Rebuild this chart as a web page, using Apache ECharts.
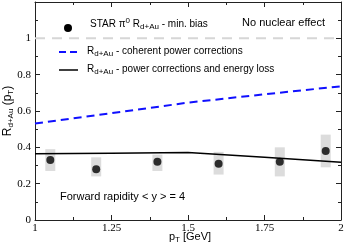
<!DOCTYPE html>
<html>
<head>
<meta charset="utf-8">
<script src="https://cdn.jsdelivr.net/npm/echarts@6/dist/echarts.min.js"></script>
<style>
html,body{margin:0;padding:0;background:#fff;}
#c{width:346px;height:249px;}
</style>
</head>
<body>
<div id="c"></div>
<script>
// STAR pi0 data
const starPt = [1.05, 1.2, 1.4, 1.6, 1.8, 1.95];
const starR = [0.33, 0.28, 0.32, 0.31, 0.32, 0.38];
const starSysLow = [0.27, 0.24, 0.27, 0.25, 0.24, 0.29];
const starSysHigh = [0.39, 0.345, 0.36, 0.375, 0.40, 0.47];
// coherent power corrections (blue dashed)
const coherentPt = [1.0, 1.25, 1.5, 1.75, 2.0];
const coherentR = [0.531, 0.588, 0.646, 0.692, 0.736];
// power corrections + energy loss (black)
const elossPt = [1.0, 1.25, 1.5, 1.75, 2.0];
const elossR = [0.364, 0.368, 0.372, 0.345, 0.318];
// no nuclear effect reference
const refPt = [1.0, 2.0];
const refR = [1.0, 1.0];
// ticks
const xTicks = ['1', '1.25', '1.5', '1.75', '2'];
const yTicks = ['0', '0.2', '0.4', '0.6', '0.8', '1'];

const chart = echarts.init(document.getElementById('c'), null, {renderer: 'canvas'});
const serif = 'Liberation Serif';
const sans = 'Liberation Sans';
const frame = '#222';

function axisCommon(show) {
  return {
    axisLine: {show: true, onZero: false, lineStyle: {color: frame, width: 1}},
    axisTick: {show: true, inside: true, length: 5, lineStyle: {color: frame, width: 1}},
    minorTick: {show: true, splitNumber: 2, length: 3, lineStyle: {color: frame, width: 1}},
    splitLine: {show: false},
    minorSplitLine: {show: false},
    axisLabel: {show: show}
  };
}

const pair = (xs, ys) => xs.map((x, i) => [x, ys[i]]);
const sysData = starPt.map((x, i) => [x, starSysLow[i], starSysHigh[i]]);

const subStyle = {fontFamily: sans, fontSize: 8, fill: '#000', color: '#000', verticalAlign: 'bottom', lineHeight: 8, padding: [5, 0, 0, 0]};
const supStyle = {fontFamily: sans, fontSize: 8, color: '#000', verticalAlign: 'top', lineHeight: 8, padding: [0, 0, 5, 0]};
const mainStyle = (fs) => ({fontFamily: sans, fontSize: fs, color: '#000', lineHeight: 14});

const legendRich = {m: mainStyle(10), s: subStyle, p: supStyle};

chart.setOption({
  animation: false,
  backgroundColor: '#fff',
  grid: {left: 35, right: 5, top: 2, bottom: 29, containLabel: false, outerBoundsMode: 'none'},
  xAxis: [
    Object.assign({type: 'value', min: 1, max: 2, interval: 0.25, position: 'bottom',
      axisLabel: {show: true, margin: 3, fontFamily: serif, fontSize: 11, color: '#000',
        formatter: (v) => { const i = Math.round((v - 1) / 0.25); return xTicks[i] || ''; }}
    }, {}),
    {type: 'value', min: 1, max: 2, interval: 0.25, position: 'top'}
  ].map((a, k) => Object.assign({}, axisCommon(k === 0), a, k === 0 ? {axisLabel: Object.assign({}, a.axisLabel)} : {axisLabel: {show: false}})),
  yAxis: [
    {type: 'value', min: 0, max: 1.2, interval: 0.2, position: 'left',
      axisLabel: {show: true, margin: 4, fontFamily: serif, fontSize: 11, color: '#000',
        formatter: (v) => { const i = Math.round(v / 0.2); return yTicks[i] || ''; }}},
    {type: 'value', min: 0, max: 1.2, interval: 0.2, position: 'right'}
  ].map((a, k) => Object.assign({}, axisCommon(k === 0), a, k === 0 ? {axisLabel: Object.assign({}, a.axisLabel)} : {axisLabel: {show: false}})),
  series: [
    {type: 'line', xAxisIndex: 0, yAxisIndex: 0, data: pair(refPt, refR), symbol: 'none', silent: true,
      lineStyle: {color: '#d6d6d6', width: 2, type: [10, 7]}},
    {type: 'custom', xAxisIndex: 0, yAxisIndex: 0, data: sysData, silent: true,
      renderItem: (params, api) => {
        const lo = api.coord([api.value(0), api.value(1)]);
        const hi = api.coord([api.value(0), api.value(2)]);
        const w = 10;
        return {type: 'rect', shape: {x: lo[0] - w / 2, y: hi[1], width: w, height: lo[1] - hi[1]},
          style: {fill: '#dcdcdc'}};
      }},
    {type: 'line', xAxisIndex: 0, yAxisIndex: 0, data: pair(coherentPt, coherentR), symbol: 'none', silent: true,
      lineStyle: {color: '#1010ff', width: 2, type: [8, 5]}},
    {type: 'line', xAxisIndex: 0, yAxisIndex: 0, data: pair(elossPt, elossR), symbol: 'none', silent: true,
      lineStyle: {color: '#000', width: 1.5}},
    {type: 'scatter', xAxisIndex: 0, yAxisIndex: 0, data: pair(starPt, starR), symbol: 'circle', symbolSize: 8,
      itemStyle: {color: '#000'}, silent: true}
  ],
  graphic: [
    // legend: STAR
    {type: 'circle', shape: {cx: 68, cy: 28, r: 4}, style: {fill: '#000'}},
    {type: 'text', x: 90, y: 24, style: {text: '{m|STAR π}{p|0}{m| R}{s|d+Au}{m| - min. bias}', rich: legendRich, verticalAlign: 'middle', align: 'left'}},
    // legend: coherent
    {type: 'line', shape: {x1: 59, y1: 52, x2: 78, y2: 52}, style: {stroke: '#1010ff', lineWidth: 2, lineDash: [7, 4]}},
    {type: 'text', x: 87, y: 51, style: {text: '{m|R}{s|d+Au}{m| - coherent power corrections}', rich: legendRich, verticalAlign: 'middle', align: 'left'}},
    // legend: eloss
    {type: 'line', shape: {x1: 59, y1: 70, x2: 78, y2: 70}, style: {stroke: '#000', lineWidth: 1.5}},
    {type: 'text', x: 87, y: 69, style: {text: '{m|R}{s|d+Au}{m| - power corrections and energy loss}', rich: legendRich, verticalAlign: 'middle', align: 'left'}},
    // annotations
    {type: 'text', x: 325, y: 23, style: {text: 'No nuclear effect', fontFamily: sans, fontSize: 11, fill: '#000', align: 'right', verticalAlign: 'middle'}},
    {type: 'text', x: 60, y: 197, style: {text: 'Forward rapidity < y > = 4', fontFamily: sans, fontSize: 11, fill: '#000', align: 'left', verticalAlign: 'middle'}},
    // axis titles
    {type: 'text', x: 190, y: 237, style: {text: '{m|p}{s|T}{m| [GeV]}', rich: {m: mainStyle(11), s: subStyle}, align: 'center', verticalAlign: 'middle'}},
    {type: 'text', x: 8, y: 111, rotation: Math.PI / 2, style: {text: '{m|R}{s|d+Au}{m| (p}{s|T}{m|)}', rich: {m: mainStyle(12), s: subStyle}, align: 'center', verticalAlign: 'middle'}}
  ]
});
</script>
</body>
</html>
